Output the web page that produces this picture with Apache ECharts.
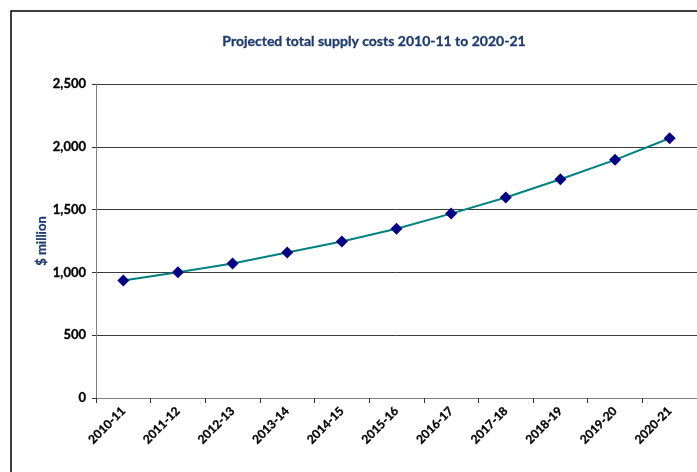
<!DOCTYPE html>
<html><head><meta charset="utf-8">
<script src="https://cdn.jsdelivr.net/npm/echarts@6/dist/echarts.min.js"></script>
<style>html,body{margin:0;padding:0;background:#fff}#c{width:697px;height:472px}</style>
</head><body><div id="c"></div>
<script>
const categories = ['2010-11','2011-12','2012-13','2013-14','2014-15','2015-16','2016-17','2017-18','2018-19','2019-20','2020-21'];
const supplyCosts = [935, 1002, 1071, 1158, 1246, 1348, 1468, 1596, 1742, 1896, 2068];
const yTicks = { min: 0, max: 2500, interval: 500 };
const titleText = 'Projected total supply costs 2010-11 to 2020-21';
const yAxisName = '$ million';

const navy = '#1F3B6E';
const chart = echarts.init(document.getElementById('c'), null, {renderer:'canvas'});
chart.setOption({
  animation: false,
  backgroundColor: '#fff',
  title: {
    text: titleText, left: 369, top: 29, textAlign: 'center',
    textStyle: { fontFamily: 'Lato', fontWeight: 'bold', fontSize: 14, color: navy,
      textBorderColor: navy, textBorderWidth: 0.3 }
  },
  graphic: [{
    type: 'rect', shape: { x: 11, y: 11, width: 720, height: 500 },
    style: { fill: 'none', stroke: '#000', lineWidth: 1.5 }, silent: true
  }],
  grid: { left: 96, top: 84, width: 605, height: 314 },
  xAxis: {
    type: 'category', data: categories, boundaryGap: true,
    axisLine: { lineStyle: { color: '#808080', width: 1 } },
    axisTick: { show: true, alignWithLabel: false, length: 5, lineStyle: { color: '#333' } },
    axisLabel: { rotate: 45, interval: 0, margin: 11, fontFamily: 'Lato', fontWeight: 'bold', fontSize: 12, color: '#000',
      textBorderColor: '#000', textBorderWidth: 0.3 },
    splitLine: { show: false }
  },
  yAxis: {
    type: 'value', min: yTicks.min, max: yTicks.max, interval: yTicks.interval,
    name: yAxisName, nameLocation: 'middle', nameGap: 48, nameRotate: 90, nameMoveOverlap: false,
    nameTextStyle: { fontFamily: 'Lato', fontWeight: 'bold', fontSize: 13, color: navy,
      textBorderColor: navy, textBorderWidth: 0.3 },
    axisLine: { show: true, lineStyle: { color: '#808080', width: 1 } },
    axisTick: { show: true, length: 4, lineStyle: { color: '#333' } },
    axisLabel: { margin: 10, fontFamily: 'Lato', fontWeight: 'bold', fontSize: 13, color: '#000',
      textBorderColor: '#000', textBorderWidth: 0.3,
      formatter: v => v.toLocaleString('en-US') },
    splitLine: { show: true, lineStyle: { color: '#3a3a3a', width: 1 } }
  },
  series: [{
    type: 'line', data: supplyCosts,
    lineStyle: { color: '#008080', width: 2 },
    itemStyle: { color: '#000080' },
    symbol: 'diamond', symbolSize: 12, showSymbol: true
  }]
});
</script></body></html>
